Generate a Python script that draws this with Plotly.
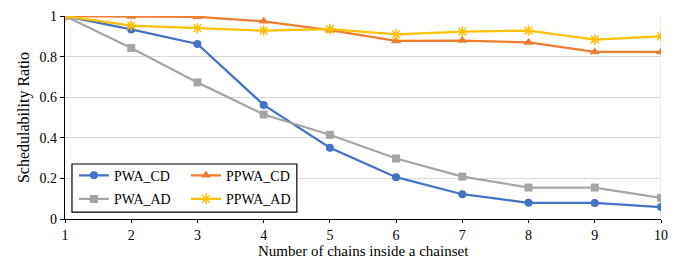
import plotly.graph_objects as go

x_chains = [1, 2, 3, 4, 5, 6, 7, 8, 9, 10]
pwa_cd = [1.0, 0.934, 0.862, 0.562, 0.351, 0.206, 0.122, 0.080, 0.079, 0.059]
pwa_ad = [1.0, 0.842, 0.673, 0.515, 0.415, 0.298, 0.209, 0.155, 0.155, 0.104]
ppwa_cd = [1.0, 0.998, 0.996, 0.974, 0.930, 0.877, 0.879, 0.870, 0.823, 0.823]
ppwa_ad = [1.0, 0.953, 0.940, 0.928, 0.935, 0.910, 0.923, 0.928, 0.884, 0.900]
y_ticks = [0, 0.2, 0.4, 0.6, 0.8, 1]
y_ticktext = ["0", "0.2", "0.4", "0.6", "0.8", "1"]
x_title = "Number of chains inside a chainset"
y_title = "Schedulability Ratio"

FONT = "Liberation Serif"

fig = go.Figure()

def add(name, y, color, symbol, legend, msize=8, open_=False):
    marker = dict(symbol=symbol, size=msize, color=color)
    if open_:
        marker["line"] = dict(color=color, width=1.5)
    fig.add_trace(go.Scatter(
        x=x_chains, y=y, name=name, mode="lines+markers",
        line=dict(color=color, width=2.25),
        marker=marker, legend=legend, showlegend=True,
    ))

add("PWA_CD", pwa_cd, "#4472C4", "circle", "legend")
add("PPWA_CD", ppwa_cd, "#ED7D31", "triangle-up", "legend2", msize=9)
add("PWA_AD", pwa_ad, "#A5A5A5", "square", "legend3")
add("PPWA_AD", ppwa_ad, "#FFC000", "asterisk-open", "legend4", msize=9, open_=True)

def leg(x, y):
    return dict(
        x=x, y=y, xanchor="left", yanchor="middle",
        font=dict(family=FONT, size=14, color="#000000"),
        bgcolor="rgba(0,0,0,0)", borderwidth=0, visible=True,
        orientation="v", itemwidth=30, itemsizing="trace",
    )

fig.update_layout(
    width=681, height=260,
    margin=dict(l=57, r=28, t=8, b=49),
    paper_bgcolor="white", plot_bgcolor="white",
    showlegend=True,
    font=dict(family=FONT, size=14, color="#000000"),
    legend=leg(0.015, 0.213),
    legend2=leg(0.203, 0.213),
    legend3=leg(0.015, 0.097),
    legend4=leg(0.203, 0.097),
    xaxis=dict(
        range=[1, 10], tickmode="array", tickvals=x_chains,
        ticktext=[str(v) for v in x_chains],
        showgrid=False, zeroline=False, automargin=False,
        showline=True, linecolor="#000000", linewidth=1.2,
        ticks="outside", ticklen=3, tickcolor="#000000", tickwidth=1,
        tickfont=dict(family=FONT, size=14),
        ticklabeloverflow="allow",
    ),
    xaxis2=dict(
        range=[1, 10], matches="x", overlaying="x", anchor="y", side="bottom",
        tickmode="array", tickvals=x_chains, showticklabels=False,
        showgrid=False, zeroline=False, showline=False, automargin=False,
        ticks="inside", ticklen=4, tickcolor="#000000", tickwidth=1,
    ),
    yaxis=dict(
        range=[0, 1], tickmode="array", tickvals=y_ticks, ticktext=y_ticktext,
        showgrid=True, gridcolor="#D9D9D9", gridwidth=1,
        zeroline=False, automargin=False,
        showline=True, linecolor="#000000", linewidth=1.2,
        ticks="outside", ticklen=4, tickcolor="#000000",
        tickfont=dict(family=FONT, size=14),
        ticklabeloverflow="allow",
        title=dict(text=y_title, font=dict(family=FONT, size=16), standoff=5),
    ),
    annotations=[
        dict(text=x_title, xref="paper", yref="paper", x=0.5, y=-0.160,
             xanchor="center", yanchor="middle", showarrow=False,
             font=dict(family=FONT, size=15, color="#000000")),
    ],
    shapes=[
        dict(type="line", xref="x", yref="paper", x0=10, x1=10, y0=0, y1=1,
             line=dict(color="#D9D9D9", width=1), layer="below"),
        dict(type="rect", xref="paper", yref="paper", x0=0.0117, x1=0.389, y0=0.034, y1=0.271,
             line=dict(color="#000000", width=1.2), fillcolor="white", layer="above"),
    ],
)

fig.write_html("out.html")
